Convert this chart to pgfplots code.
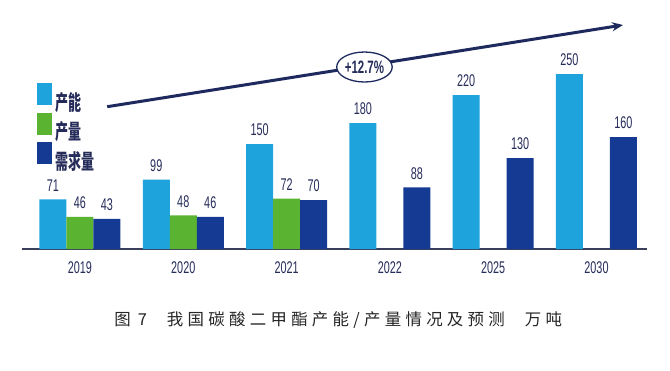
\documentclass[border=0pt]{standalone}
\usepackage{pgfplots}
\pgfplotsset{compat=1.18}
\usetikzlibrary{arrows.meta,shapes.geometric}
\usepackage{fontspec}
\setmainfont{Liberation Sans}
\newfontfamily\narrow[FakeStretch=0.64]{Liberation Sans}
\newfontfamily\cjknarrow[FakeStretch=0.62]{Noto Sans CJK SC}
\newfontfamily\cjkcap[LetterSpace=26]{Noto Sans CJK SC}
\definecolor{capc}{HTML}{1FA3DD}
\definecolor{prodc}{HTML}{5AB432}
\definecolor{demc}{HTML}{143A94}
\definecolor{txt}{HTML}{262C5A}
\definecolor{axisc}{HTML}{3A3F5C}
\definecolor{arrowc}{HTML}{1E2A5E}
\pgfplotsset{myleg/.style={legend image code/.code={\fill[##1] (0bp,-3bp) rectangle (15bp,19bp);}}}
\begin{document}
\begin{tikzpicture}
\path[use as bounding box] (-22bp,-122bp) rectangle (648bp,249bp);
\begin{axis}[
  at={(0,0)}, anchor=south west,
  scale only axis, width=625bp, height=234bp,
  xmin=-0.561, xmax=5.489, ymin=0, ymax=334.3,
  ybar, bar width=27bp,
  hide y axis, axis x line=bottom,
  x axis line style={-, draw=axisc, line width=1.3bp},
  xtick={0,1,2,3,4,5},
  xticklabels={2019,2020,2021,2022,2025,2030},
  major tick length=0pt,
  xticklabel style={font=\narrow\fontsize{17}{17}\selectfont, text=txt, inner sep=0pt, yshift=-12bp},
  clip=false,
  /pgf/number format/assume math mode=true,
  nodes near coords,
  every node near coord/.append style={font=\narrow\fontsize{17}{17}\selectfont, text=txt, inner sep=0pt, anchor=south, yshift=8bp},
  legend style={at={(rel axis cs:0.024,0.709)}, anchor=north west, draw=none, fill=none, inner sep=0pt, row sep=0.5bp,
    font=\cjknarrow\bfseries\fontsize{21}{21}\selectfont, text=txt,
    nodes={inner xsep=3bp, inner ysep=0pt}},
  legend cell align=left,
]
\addplot[fill=capc, draw=none, bar shift=-27bp, myleg] coordinates {(0,71) (1,99) (2,150) (3,180) (4,220) (5,250)};
\addplot[fill=prodc, draw=none, bar shift=0bp, myleg] coordinates {(0,46) (1,48) (2,72)};
\addplot[fill=demc, draw=none, bar shift=27bp, myleg] coordinates {(0,43) (1,46) (2,70) (3,88) (4,130) (5,160)};
\legend{产能,产量,需求量}
\draw[-{Stealth[length=11bp,width=9bp]}, line width=3bp, arrowc] (axis cs:0.264,203.3) -- (axis cs:5.257,320);
\node[draw=arrowc, line width=1.3bp, fill=white, ellipse, minimum width=53bp, minimum height=30bp, inner sep=0pt, text=txt]
  at (axis cs:2.754,260) {\narrow\bfseries\fontsize{18}{18}\selectfont +12.7\%};
\node[font=\cjkcap\fontsize{16.5}{16.5}\selectfont, text=black!85, inner sep=0pt] at (axis cs:2.5,-101.5) {图\hspace{7bp}7\hspace{20bp}我国碳酸二甲酯产能/产量情况及预测\hspace{20bp}万吨};
\end{axis}
\end{tikzpicture}
\end{document}
